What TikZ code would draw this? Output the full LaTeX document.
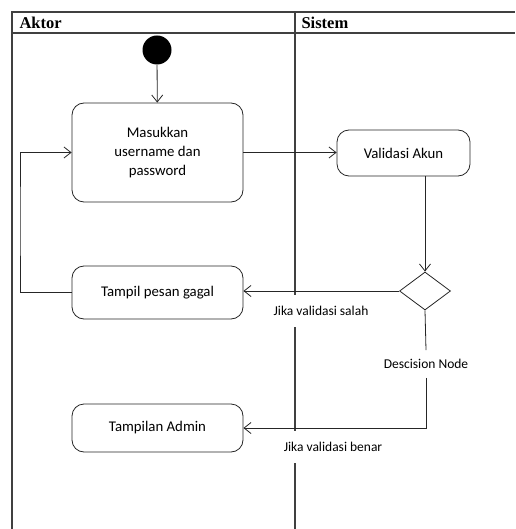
\documentclass[tikz,border=0pt]{standalone}
\usepackage{fontspec}
\setmainfont{Liberation Serif}
\newfontfamily\kotakfont{Carlito}
\usetikzlibrary{shapes.geometric,arrows.meta}
\tikzset{
    aksi/.style={draw=black!85, line width=0.8pt, rounded corners=12pt, minimum width=171pt,
      align=center, font=\kotakfont\fontsize{14.8}{19}\selectfont},
    ket/.style={fill=white, inner xsep=2pt, inner ysep=11pt, font=\kotakfont\fontsize{13.5}{15}\selectfont},
    alur/.style={draw=black!85, line width=0.8pt, -{Straight Barb[length=7pt,width=11pt]}},
    garis/.style={draw=black!75, line width=1.2pt},
  }
\begin{document}
\begin{tikzpicture}[x=1pt,y=-1pt]
				  %ukuran gambar
				  \useasboundingbox (0,0) rectangle (515,529);
				  %swimlane
				  \draw[garis] (12,529) -- (12,12) -- (515,12);
				  \draw[garis] (12,33) -- (515,33);
				  \draw[garis] (295,12) -- (295,529);
				  \node[anchor=west, font=\bfseries\fontsize{16.5}{18}\selectfont] (aktor) at (16,23) {Aktor};
				  \node[anchor=west, font=\bfseries\fontsize{16.5}{18}\selectfont] (sistem) at (298,23) {Sistem};

				  \node[circle, fill=black, minimum size=29pt, inner sep=0] (mulai) at (157,50) {};
				  \node[aksi, minimum height=99pt] (masuk) at (157.5,152.5) {Masukkan\\username dan\\password};
				  \node[aksi, minimum width=133pt, minimum height=46pt] (validasi) at (403.5,153) {Validasi Akun};
				  \node[diamond, draw=black!85, line width=0.8pt, aspect=1.34, minimum width=51pt, minimum height=38pt, inner sep=0] (keputusan) at (425,291) {};
				  \node[aksi, minimum height=53pt] (gagal) at (157.5,292.5) {Tampil pesan gagal};
				  \node[aksi, minimum height=48pt] (admin) at (157.5,428) {Tampilan Admin};
				  \coordinate (belok) at (20,220);

				  \node[ket] (salah) at (321,311) {Jika validasi salah};
				  \node[ket, inner ysep=9pt] (node) at (426,364) {Descision Node};
				  \node[ket] (benar) at (333,447) {Jika validasi benar};

				  \draw[alur] (mulai) -- (masuk);
				  \draw[alur] (masuk.east) -- (masuk.east -| validasi.west);
				  \draw[alur] (validasi.south -| keputusan.north) -- (keputusan.north);
				  \draw[alur] (keputusan.west) -- (keputusan.west -| gagal.east);
				  \draw[alur] (gagal.west) -| (belok) |- (masuk.west);
				  \draw[draw=black!85, line width=0.8pt] (keputusan.south) -- (node.north);
				  \draw[alur] (node.south) |- (admin.east);
				  \end{tikzpicture}
\end{document}
